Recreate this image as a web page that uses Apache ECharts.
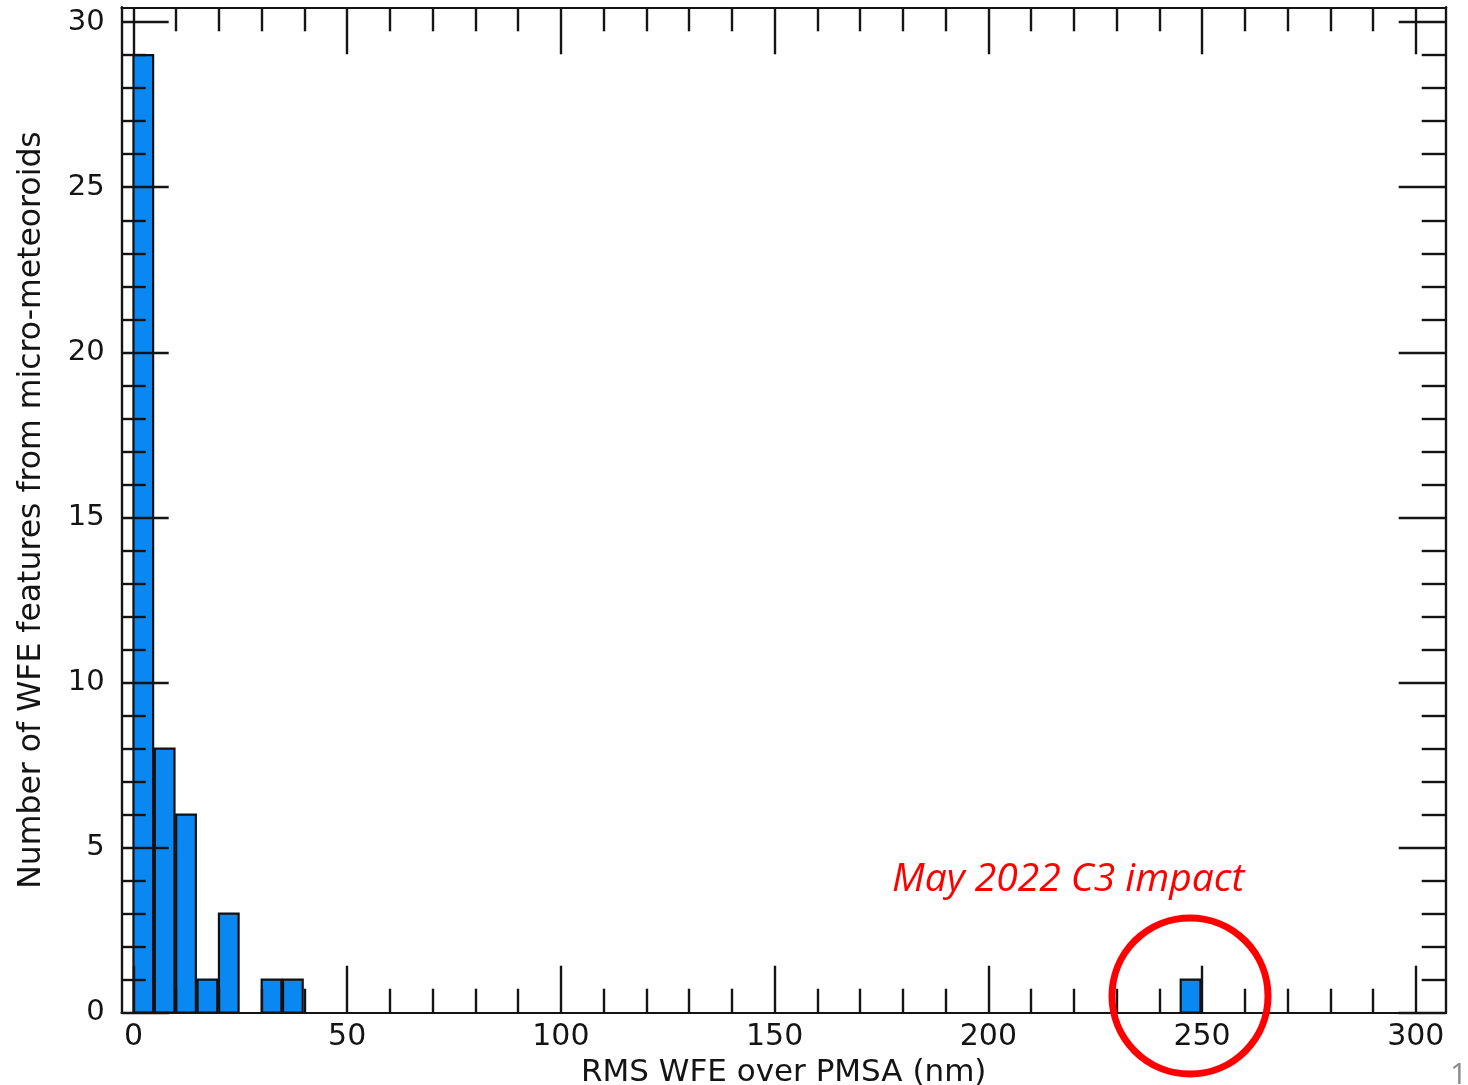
<!DOCTYPE html>
<html>
<head>
<meta charset="utf-8">
<script src="https://cdn.jsdelivr.net/npm/echarts@6/dist/echarts.min.js"></script>
<style>
  html, body { margin: 0; padding: 0; background: #fff; }
  #chart { width: 1468px; height: 1085px; }
</style>
</head>
<body>
<div id="chart"></div>
<script>
// ---- data ----
const binStarts = [0, 5, 10, 15, 20, 30, 35, 245];
const counts = [29, 8, 6, 1, 3, 1, 1, 1];
const binWidth = 5;
const xMajorTicks = [0, 50, 100, 150, 200, 250, 300];
const xMinorTicks = [10, 20, 30, 40, 60, 70, 80, 90, 110, 120, 130, 140, 160, 170, 180, 190, 210, 220, 230, 240, 260, 270, 280, 290];
const yMajorTicks = [0, 5, 10, 15, 20, 25, 30];
const yMinorTicks = [1, 2, 3, 4, 6, 7, 8, 9, 11, 12, 13, 14, 16, 17, 18, 19, 21, 22, 23, 24, 26, 27, 28, 29];
const xTitle = 'RMS WFE over PMSA (nm)';
const yTitle = 'Number of WFE features from micro-meteoroids';
const annotation = 'May 2022 C3 impact';

const FONT = '"DejaVu Sans", Verdana, sans-serif';
const X_MIN = -2.75, X_MAX = 307, Y_MIN = 0, Y_MAX = 30.45;
const lineCol = '#141414';

function xAxisDef(pos, ticks, len, withLabel, withName) {
  return {
    type: 'value', position: pos, min: X_MIN, max: X_MAX, z: 5,
    axisLine: { show: true, onZero: false, lineStyle: { color: lineCol, width: 2.2 } },
    axisTick: { show: true, inside: true, length: len, customValues: ticks, lineStyle: { color: lineCol, width: 2.4 } },
    axisLabel: withLabel ? { show: true, customValues: ticks, fontFamily: FONT, fontSize: 30, color: '#141414', margin: 10 } : { show: false },
    splitLine: { show: false },
    name: withName ? xTitle : '',
    nameLocation: 'middle', nameGap: 43,
    nameTextStyle: { fontFamily: FONT, fontSize: 31, color: '#141414' }
  };
}
function yAxisDef(pos, ticks, len, withLabel, withName) {
  return {
    type: 'value', position: pos, min: Y_MIN, max: Y_MAX, z: 5,
    axisLine: { show: true, onZero: false, lineStyle: { color: lineCol, width: 2.2 } },
    axisTick: { show: true, inside: true, length: len, customValues: ticks, lineStyle: { color: lineCol, width: 2.4 } },
    axisLabel: withLabel ? { show: true, customValues: ticks, fontFamily: FONT, fontSize: 29, color: '#141414', margin: 17, padding: [6, 0, 0, 0] } : { show: false },
    splitLine: { show: false },
    name: withName ? yTitle : '',
    nameLocation: 'middle', nameGap: 74,
    nameTextStyle: { fontFamily: FONT, fontSize: 31.5, color: '#141414' }
  };
}

const chart = echarts.init(document.getElementById('chart'), null, { renderer: 'canvas' });
chart.setOption({
  backgroundColor: '#ffffff',
  animation: false,
  grid: { left: 121.7, right: 22.3, top: 7.3, bottom: 72.3, containLabel: false, outerBoundsMode: 'none' },
  xAxis: [
    xAxisDef('bottom', xMajorTicks, 47, true, true),
    xAxisDef('bottom', xMinorTicks, 24, false, false),
    xAxisDef('top', xMajorTicks, 47, false, false),
    xAxisDef('top', xMinorTicks, 24, false, false)
  ],
  yAxis: [
    yAxisDef('left', yMajorTicks, 47, true, true),
    yAxisDef('left', yMinorTicks, 24, false, false),
    yAxisDef('right', yMajorTicks, 47, false, false),
    yAxisDef('right', yMinorTicks, 24, false, false)
  ],
  series: [{
    type: 'custom',
    z: 1,
    xAxisIndex: 0, yAxisIndex: 0,
    data: binStarts.map((s, i) => [s, counts[i]]),
    renderItem: function (params, api) {
      const s = api.value(0), c = api.value(1);
      const p0 = api.coord([s, 0]);
      const p1 = api.coord([s + binWidth * 0.92, c]);
      return {
        type: 'rect',
        shape: { x: p0[0], y: p1[1], width: p1[0] - p0[0], height: p0[1] - p1[1] },
        style: { fill: '#0a88f2', stroke: '#111', lineWidth: 2.2 }
      };
    }
  }],
  graphic: [
    {
      type: 'text', left: 892, top: 860, z: 10,
      style: { text: annotation, fill: '#ff0000', font: 'italic 39px "Open Sans", "Lato", sans-serif' }
    },
    {
      type: 'circle', z: 10,
      shape: { cx: 1190, cy: 996, r: 78 },
      style: { fill: 'none', stroke: '#ff0000', lineWidth: 7 }
    },
    {
      type: 'text', left: 1450, top: 1060, z: 10,
      style: { text: '1', fill: '#8a8a8a', font: '30px "Open Sans", sans-serif' }
    }
  ]
});
</script>
</body>
</html>
